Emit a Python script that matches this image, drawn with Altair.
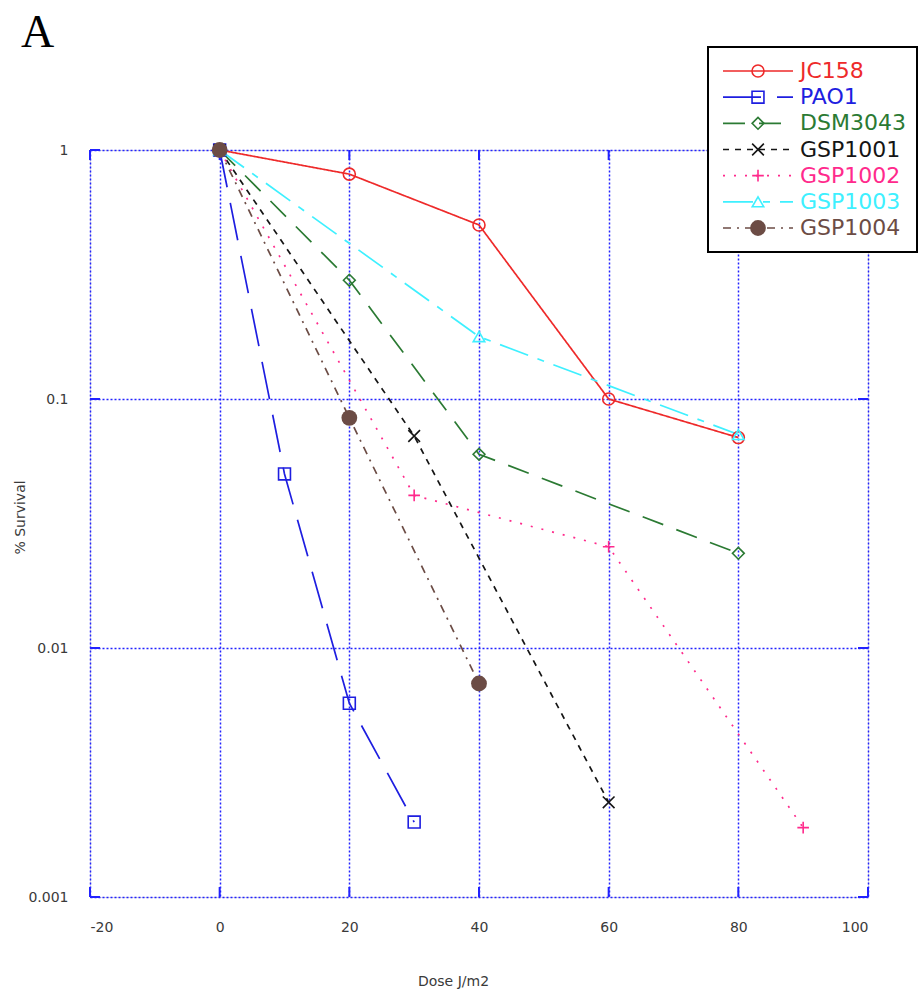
import altair as alt
import pandas as pd

# ---- survival data (fraction surviving vs UV dose) ----
series = ["JC158", "PAO1", "DSM3043", "GSP1001", "GSP1002", "GSP1003", "GSP1004"]

jc158_dose = [0, 20, 40, 60, 80]
jc158_surv = [1, 0.8, 0.5, 0.1, 0.07]

pao1_dose = [0, 10, 20, 30]
pao1_surv = [1, 0.05, 0.006, 0.002]

dsm3043_dose = [0, 20, 40, 80]
dsm3043_surv = [1, 0.3, 0.06, 0.024]

gsp1001_dose = [0, 30, 60]
gsp1001_surv = [1, 0.071, 0.0024]

gsp1002_dose = [0, 30, 60, 90]
gsp1002_surv = [1, 0.041, 0.0255, 0.0019]

gsp1003_dose = [0, 40, 80]
gsp1003_surv = [1, 0.178, 0.072]

gsp1004_dose = [0, 20, 40]
gsp1004_surv = [1, 0.084, 0.0072]

x_ticks = [-20, 0, 20, 40, 60, 80, 100]
y_ticks = [0.001, 0.01, 0.1, 1]
panel_label = "A"

# ---- styling ----
colors = ["#ee2a2a", "#1e1ee0", "#2b7a33", "#151515", "#ff2a8c", "#3ef0ff", "#6c4c45"]
dashes = [[1, 0], [38, 16], [22, 14], [6, 6], [2, 9], [30, 10, 7, 10], [8, 6, 2, 6]]
shapes = ["circle", "square", "diamond", "M-1,-1L1,1M-1,1L1,-1", "M-1,0H1M0,-1V1",
          "triangle-up", "circle"]
sizes = [144, 130, 190, 130, 200, 150, 250]
BLUE = "#2222ff"
FONT = "DejaVu Sans"
W, H = 778, 747

pairs = [(jc158_dose, jc158_surv), (pao1_dose, pao1_surv), (dsm3043_dose, dsm3043_surv),
         (gsp1001_dose, gsp1001_surv), (gsp1002_dose, gsp1002_surv),
         (gsp1003_dose, gsp1003_surv), (gsp1004_dose, gsp1004_surv)]
rows = []
for name, (d, s) in zip(series, pairs):
    for xv, yv in zip(d, s):
        rows.append({"series": name, "dose": xv, "surv": yv})
df = pd.DataFrame(rows)

color_scale = alt.Scale(domain=series, range=colors)
dash_scale = alt.Scale(domain=series, range=dashes)
shape_scale = alt.Scale(domain=series, range=shapes)
size_scale = alt.Scale(domain=series, range=sizes)

X = alt.X(
    "dose:Q",
    scale=alt.Scale(domain=[-20, 100], nice=False, zero=False),
    axis=alt.Axis(
        values=x_ticks, ticks=False, domain=False, grid=True,
        labelExpr="'' + datum.value",
        gridColor=BLUE, gridDash=[2, 2], gridWidth=1.5,
        labelFont=FONT, labelFontSize=14, labelColor="#3a3a3a", labelPadding=23,
        title="Dose J/m2", titleFont=FONT, titleFontSize=14, titleFontWeight="normal",
        titleColor="#3a3a3a", titleX=363, titleY=88, titleBaseline="alphabetic",
        titleAlign="center",
    ),
)
Y = alt.Y(
    "surv:Q",
    scale=alt.Scale(type="log", domain=[0.001, 1], nice=False),
    axis=alt.Axis(
        values=y_ticks, ticks=False, domain=False, grid=True, format=".3~f",
        gridColor=BLUE, gridDash=[2, 2], gridWidth=1.5,
        labelFont=FONT, labelFontSize=14, labelColor="#3a3a3a", labelPadding=22,
        title="% Survival", titleFont=FONT, titleFontSize=14, titleFontWeight="normal",
        titleColor="#3a3a3a", titleX=-70, titleY=367, titleAngle=-90,
        titleAlign="center", titleBaseline="middle",
    ),
)

color_enc = alt.Color("series:N", scale=color_scale, legend=None)

lines = alt.Chart(df).mark_line(strokeWidth=1.7).encode(
    x=X, y=Y, color=color_enc,
    strokeDash=alt.StrokeDash("series:N", scale=dash_scale, legend=None),
    detail="series:N", order="dose:Q",
)
open_pts = alt.Chart(df).transform_filter(alt.datum.series != "GSP1004").mark_point(
    filled=False, strokeWidth=1.6, opacity=1
).encode(
    x=X, y=Y, color=color_enc,
    shape=alt.Shape("series:N", scale=shape_scale, legend=None),
    size=alt.Size("series:N", scale=size_scale, legend=None),
)
solid_pts = alt.Chart(df).transform_filter(alt.datum.series == "GSP1004").mark_point(
    filled=True, shape="circle", size=250, opacity=1
).encode(x=X, y=Y, color=color_enc)

# inward tick marks on all four sides of the frame
xt = pd.DataFrame({"dose": x_ticks})
yt = pd.DataFrame({"surv": y_ticks})
tick_style = dict(color=BLUE, strokeWidth=2)
t_bottom = alt.Chart(xt).mark_rule(**tick_style).encode(x=X, y=alt.value(H), y2=alt.value(H - 10))
t_top = alt.Chart(xt).mark_rule(**tick_style).encode(x=X, y=alt.value(0), y2=alt.value(10))
t_left = alt.Chart(yt).mark_rule(**tick_style).encode(y=Y, x=alt.value(0), x2=alt.value(10))
t_right = alt.Chart(yt).mark_rule(**tick_style).encode(y=Y, x=alt.value(W), x2=alt.value(W - 10))

main = alt.layer(t_bottom, t_top, t_left, t_right, lines, open_pts, solid_pts)

# ---- boxed key in the upper right ----
ldf = pd.DataFrame({"series": series, "row": list(range(len(series)))})
lline = pd.DataFrame(
    [{"series": s, "row": i, "lx": v} for i, s in enumerate(series) for v in (0, 1)]
)
LX = alt.Scale(domain=[0, 1], range=[633, 703], nice=False, zero=False)
LY = alt.Scale(domain=[0, 6], range=[-79, 78], nice=False, zero=False)

box = alt.Chart(pd.DataFrame({"k": [0]})).mark_rect(
    fill="white", stroke="black", strokeWidth=2
).encode(x=alt.value(618), x2=alt.value(827), y=alt.value(-103), y2=alt.value(102))
key_lines = alt.Chart(lline).mark_line(strokeWidth=1.7).encode(
    x=alt.X("lx:Q", scale=LX, axis=None),
    y=alt.Y("row:Q", scale=LY, axis=None),
    color=color_enc,
    strokeDash=alt.StrokeDash("series:N", scale=dash_scale, legend=None),
    detail="series:N",
)
key_open = alt.Chart(ldf).transform_filter(alt.datum.series != "GSP1004").mark_point(
    filled=False, strokeWidth=1.6, opacity=1
).encode(
    x=alt.datum(0.5, scale=LX), y=alt.Y("row:Q", scale=LY, axis=None),
    color=color_enc,
    shape=alt.Shape("series:N", scale=shape_scale, legend=None),
    size=alt.Size("series:N", scale=size_scale, legend=None),
)
key_solid = alt.Chart(ldf).transform_filter(alt.datum.series == "GSP1004").mark_point(
    filled=True, shape="circle", size=250, opacity=1
).encode(x=alt.datum(0.5, scale=LX), y=alt.Y("row:Q", scale=LY, axis=None), color=color_enc)
key_text = alt.Chart(ldf).mark_text(
    align="left", baseline="middle", font=FONT, fontSize=22, dx=0
).encode(
    x=alt.datum(1.1, scale=LX), y=alt.Y("row:Q", scale=LY, axis=None),
    text="series:N", color=color_enc,
)
key = alt.layer(box, key_lines, key_open, key_solid, key_text)

# panel letter in the top-left corner
letter = alt.Chart(pd.DataFrame({"label": [panel_label]})).mark_text(
    align="left", baseline="alphabetic", font="Liberation Serif", fontSize=46,
    color="black",
).encode(x=alt.value(-69), y=alt.value(-103), text="label:N")

chart = (
    alt.layer(main, key, letter)
    .resolve_scale(x="independent", y="independent")
    .properties(
        width=W, height=H,
        autosize=alt.AutoSizeParams(type="none"),
        padding={"left": 90, "top": 150, "right": 52, "bottom": 92},
    )
    .configure_view(stroke=BLUE, strokeWidth=2)
    .configure(background="white")
)

chart.save("out.html", embed_options={"renderer": "svg", "actions": False})
